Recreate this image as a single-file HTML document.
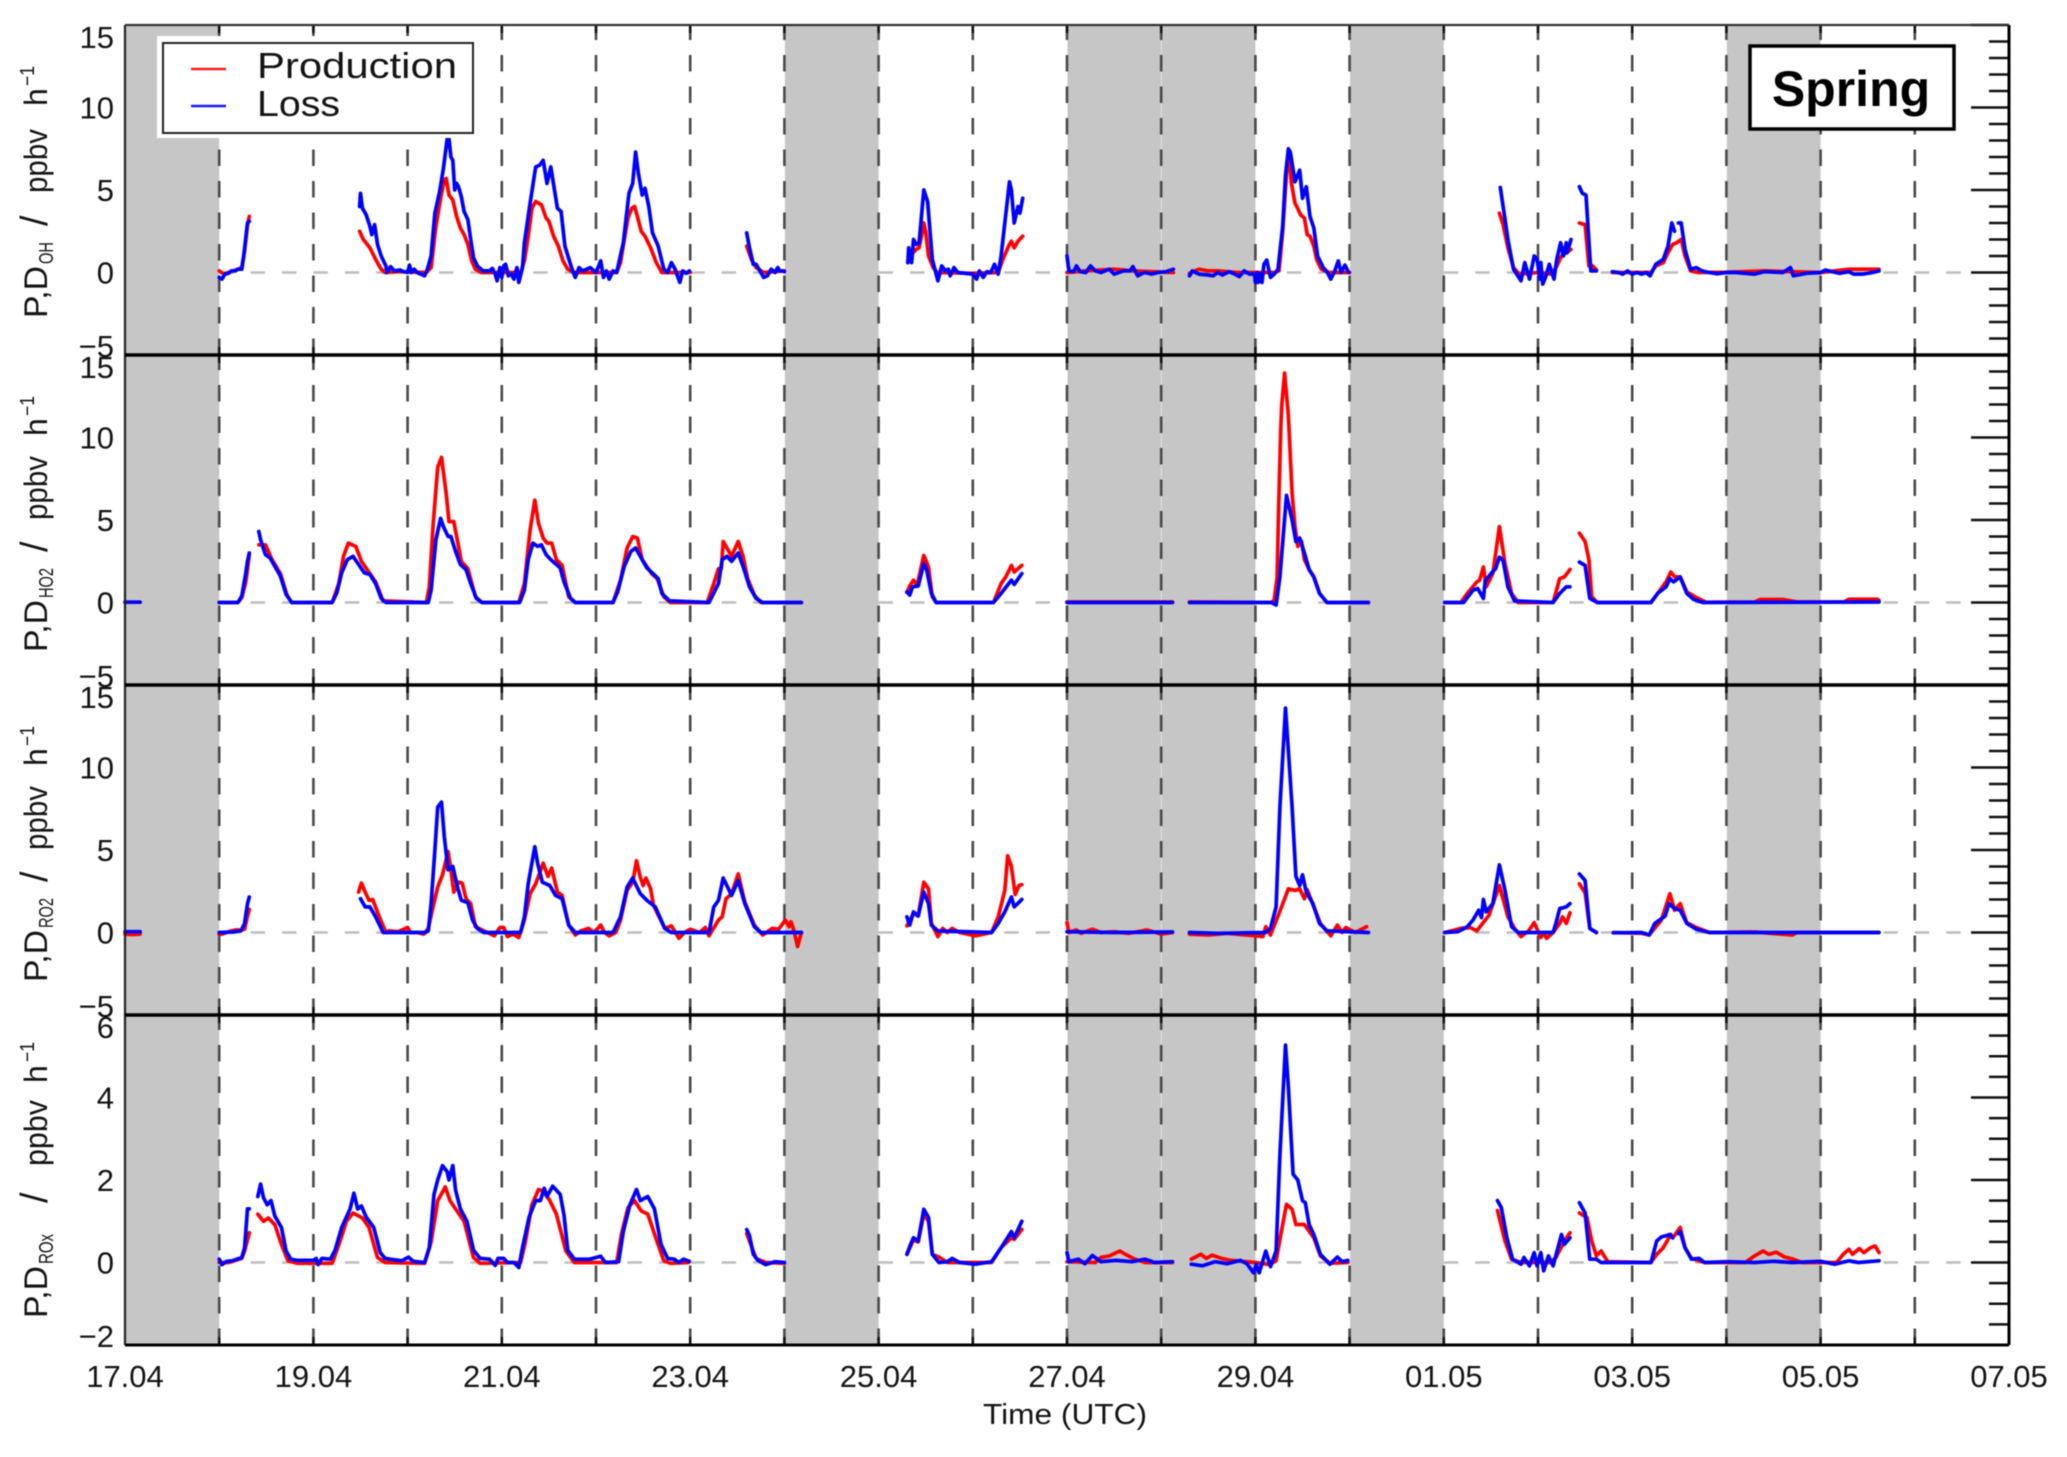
<!DOCTYPE html>
<html lang="en">
<head>
<meta charset="utf-8">
<title>Spring radical production and loss rates</title>
<style>
html,body{margin:0;padding:0;background:#fff;}
svg{display:block;filter:blur(0.55px);}
text{font-family:"Liberation Sans",sans-serif;fill:#141414;}
</style>
</head>
<body>
<svg id="chart" xmlns="http://www.w3.org/2000/svg" width="2067" height="1457" viewBox="0 0 2067 1457">
  <g id="panels"></g>
  <g id="frame"></g>
  <g id="xlabels"></g>
  <text x="983" y="1424" font-size="29" textLength="164" lengthAdjust="spacingAndGlyphs">Time (UTC)</text>

  <g transform="translate(47,318) rotate(-90)" font-size="32">
    <text x="0" y="0" textLength="52" lengthAdjust="spacingAndGlyphs">P,D</text><text x="54" y="6" font-size="20" textLength="22" lengthAdjust="spacingAndGlyphs">OH</text>
    <text x="92" y="0" font-size="38">/</text><text x="125" y="0" textLength="64" lengthAdjust="spacingAndGlyphs">ppbv</text>
    <text x="212" y="0">h</text><text x="232" y="-13" font-size="20" textLength="20" lengthAdjust="spacingAndGlyphs">−1</text>
  </g>
  <g transform="translate(47,652) rotate(-90)" font-size="32">
    <text x="0" y="0" textLength="52" lengthAdjust="spacingAndGlyphs">P,D</text><text x="54" y="6" font-size="20" textLength="30" lengthAdjust="spacingAndGlyphs">HO2</text>
    <text x="100" y="0" font-size="38">/</text><text x="132" y="0" textLength="64" lengthAdjust="spacingAndGlyphs">ppbv</text>
    <text x="216" y="0">h</text><text x="236" y="-13" font-size="20" textLength="20" lengthAdjust="spacingAndGlyphs">−1</text>
  </g>
  <g transform="translate(47,982) rotate(-90)" font-size="32">
    <text x="0" y="0" textLength="52" lengthAdjust="spacingAndGlyphs">P,D</text><text x="54" y="6" font-size="20" textLength="30" lengthAdjust="spacingAndGlyphs">RO2</text>
    <text x="100" y="0" font-size="38">/</text><text x="132" y="0" textLength="64" lengthAdjust="spacingAndGlyphs">ppbv</text>
    <text x="216" y="0">h</text><text x="236" y="-13" font-size="20" textLength="20" lengthAdjust="spacingAndGlyphs">−1</text>
  </g>
  <g transform="translate(47,1318) rotate(-90)" font-size="32">
    <text x="0" y="0" textLength="52" lengthAdjust="spacingAndGlyphs">P,D</text><text x="54" y="6" font-size="20" textLength="30" lengthAdjust="spacingAndGlyphs">ROx</text>
    <text x="115" y="0" font-size="38">/</text><text x="152" y="0" textLength="66" lengthAdjust="spacingAndGlyphs">ppbv</text>
    <text x="235" y="0">h</text><text x="256" y="-13" font-size="20" textLength="20" lengthAdjust="spacingAndGlyphs">−1</text>
  </g>

  <g>
    <rect x="157" y="36" width="320" height="102" fill="#fff"/>
    <rect x="163" y="43" width="310" height="90" fill="#fff" stroke="#222" stroke-width="2"/>
    <line x1="191" x2="226" y1="69" y2="69" stroke="#ff1a1a" stroke-width="2.5"/>
    <line x1="191" x2="226" y1="106" y2="106" stroke="#1a1aff" stroke-width="2.5"/>
    <text x="257" y="78" font-size="36" textLength="200" lengthAdjust="spacingAndGlyphs">Production</text>
    <text x="257" y="116" font-size="36" textLength="83" lengthAdjust="spacingAndGlyphs">Loss</text>
  </g>

  <g>
    <rect x="1750" y="46" width="204" height="83" fill="#fff" stroke="#000" stroke-width="3.5"/>
    <text x="1851" y="106" font-size="50" font-weight="700" text-anchor="middle" style="fill:#000">Spring</text>
  </g>
</svg>

<script>
// Tick labels and categories
const xTickLabels = ['17.04','19.04','21.04','23.04','25.04','27.04','29.04','01.05','03.05','05.05','07.05'];
const yTicksRates = [15,10,5,0,-5];
const yTicksRox = [6,4,2,0,-2];
const grayDays = [[0,1],[7,8],[10,11],[11,12],[13,14],[17,18]];

// Series: [days since 17.04, ppbv/h]; null marks a data gap
const ohProd = [[1,0.1],[1.05,-0.1],[1.12,0.05],[1.2,0.2],[1.24,0.3],[1.27,1.3],[1.3,2.9],[1.32,3.4],null,
[2.49,2.5],[2.53,2],[2.6,1.5],[2.66,0.8],[2.72,0.2],[2.76,0],[2.9,0.05],[3.2,0],[3.25,0.3],[3.3,2.8],[3.35,4.5],[3.39,5.6],[3.41,5.7],[3.44,4.7],[3.48,4.4],[3.52,3.4],[3.56,2.7],[3.6,2.3],[3.64,1.7],[3.68,0.7],[3.72,0.2],[3.78,0],[4.2,0],[4.24,0.7],[4.28,2.2],[4.32,3.9],[4.36,4.3],[4.42,4.1],[4.47,3.3],[4.5,3.1],[4.55,2.2],[4.6,1.6],[4.65,0.7],[4.7,0.2],[4.76,0],[5.22,0],[5.26,0.6],[5.3,2],[5.34,3.3],[5.38,3.9],[5.41,4],[5.44,3.4],[5.48,2.5],[5.52,2.2],[5.58,1.5],[5.64,0.6],[5.7,0],[6,0],null,
[6.6,1.6],[6.65,0.8],[6.7,0.3],[6.78,0],[7,0.1],null,
[8.31,0.6],[8.35,1.1],[8.4,1.4],[8.43,1.5],[8.46,2.3],[8.48,3],[8.5,2.5],[8.53,1],[8.58,0.3],[8.62,0],[9,-0.05],[9.27,0],[9.32,0.8],[9.38,1.6],[9.41,1.9],[9.44,1.5],[9.48,1.9],[9.53,2.2],null,
[10,0],[10.2,0.1],[10.5,0.2],[10.7,0.1],[11.13,0],null,
[11.3,-0.05],[11.4,0.2],[11.5,0.1],[11.6,0.1],[11.8,0],[12.2,0],[12.25,0.1],[12.29,2.5],[12.33,6],[12.36,7.2],[12.38,5.5],[12.42,4.2],[12.44,4],[12.48,3.5],[12.52,3.3],[12.55,2.3],[12.58,2.2],[12.62,1.6],[12.65,0.8],[12.7,0.2],[12.78,0],[13,0],null,
[14.59,3.6],[14.63,2.9],[14.68,1.5],[14.74,0.3],[14.8,-0.1],[15,0],[15.15,-0.1],[15.2,0.4],[15.25,1],[15.3,1.2],[15.35,1.4],null,
[15.44,3],[15.5,2.9],[15.54,0.4],[15.58,0.4],[15.62,0.15],null,
[15.79,0],[16.2,0],[16.25,0.4],[16.33,0.6],[16.38,1.2],[16.43,1.7],[16.47,1.8],[16.52,2],[16.56,1],[16.62,0.1],[16.7,0],[17,0.02],[17.4,0.1],[18,0],[18.3,0.2],[18.62,0.2]];

const ohLoss = [[1,-0.3],[1.03,-0.4],[1.06,-0.1],[1.1,-0.05],[1.13,0.1],[1.17,0.1],[1.2,0.2],[1.24,0.2],[1.26,1],[1.28,2],[1.3,3],[1.32,3.1],null,
[2.49,4],[2.5,4.8],[2.52,3.9],[2.56,3.5],[2.6,2.8],[2.62,2.3],[2.65,2.9],[2.68,1.7],[2.72,1],[2.77,0.4],[2.78,0],[2.82,0.35],[2.86,0.1],[2.92,0.15],[2.96,0.05],[3,0],[3.02,0.45],[3.04,0],[3.07,0.2],[3.1,0],[3.18,-0.2],[3.21,0.2],[3.25,1],[3.29,3.6],[3.34,4.9],[3.38,6.3],[3.42,8.1],[3.44,8.1],[3.46,7],[3.48,6.8],[3.5,5],[3.52,5.4],[3.54,5.2],[3.57,4.6],[3.6,3.7],[3.64,3.2],[3.67,2],[3.7,0.9],[3.74,0.4],[3.8,0.1],[3.87,0.1],[3.9,0.25],[3.93,-0.1],[3.95,-0.5],[3.98,0.3],[4,-0.3],[4.02,0.4],[4.04,0.5],[4.07,-0.2],[4.1,-0.1],[4.13,-0.4],[4.16,0.3],[4.18,-0.6],[4.22,0.3],[4.24,1.8],[4.3,4.2],[4.36,6.4],[4.4,6.5],[4.44,6.8],[4.48,5.4],[4.52,6.4],[4.59,3.9],[4.63,3.7],[4.67,1.6],[4.74,0.3],[4.78,-0.3],[4.82,0.3],[4.86,0.1],[4.94,0.3],[5,0],[5.05,0.7],[5.08,-0.3],[5.11,0.1],[5.14,-0.4],[5.18,0.1],[5.22,0],[5.29,1.8],[5.35,4.8],[5.39,5.4],[5.42,7.3],[5.45,6],[5.49,4.7],[5.52,5.1],[5.56,4],[5.6,2.4],[5.66,1.6],[5.72,0.2],[5.76,0],[5.8,0.6],[5.84,0.2],[5.89,-0.6],[5.92,0.1],[5.96,-0.05],[5.99,0.1],null,
[6.6,2.4],[6.63,1.5],[6.67,0.5],[6.7,0.5],[6.74,0.1],[6.78,-0.3],[6.82,-0.2],[6.86,0.2],[6.9,0],[6.93,0.3],[6.95,0.1],[6.98,0.1],[7,0.05],null,
[8.31,0.6],[8.32,1.5],[8.35,0.6],[8.37,2],[8.4,1.7],[8.43,1.8],[8.48,5],[8.52,4.3],[8.57,0.8],[8.63,-0.5],[8.67,0.4],[8.71,0.1],[8.74,0.2],[8.76,-0.2],[8.8,0.3],[8.84,0],[9,-0.1],[9.04,-0.4],[9.07,0.1],[9.11,-0.3],[9.15,0.05],[9.19,0],[9.23,0.5],[9.27,-0.1],[9.3,1],[9.34,3],[9.39,5.5],[9.41,5],[9.44,3],[9.48,4],[9.5,3.6],[9.53,4.5],null,
[10,1],[10.02,0.1],[10.07,0.05],[10.1,0.4],[10.14,0.05],[10.2,0],[10.25,0.4],[10.3,0.1],[10.36,0],[10.45,0.2],[10.5,-0.1],[10.6,0.1],[10.67,0.1],[10.7,0.35],[10.75,-0.2],[10.82,0],[10.9,-0.1],[10.97,0],[11.05,0.05],[11.13,0.2],null,
[11.3,-0.2],[11.33,0.1],[11.4,-0.1],[11.5,-0.15],[11.55,-0.2],[11.6,0],[11.65,-0.15],[11.72,0.05],[11.78,-0.1],[11.83,-0.25],[11.88,0.1],[11.94,-0.1],[11.99,-0.1],[12,-0.6],[12.02,0],[12.03,-0.6],[12.05,-0.1],[12.07,-0.6],[12.09,0.5],[12.12,0.75],[12.16,-0.3],[12.2,-0.1],[12.24,0.2],[12.29,2.8],[12.32,5.9],[12.35,7.5],[12.37,7.3],[12.42,5.5],[12.47,6.2],[12.5,4.5],[12.54,5.2],[12.58,3.4],[12.62,2.7],[12.66,1],[12.72,0.3],[12.76,0.05],[12.8,-0.4],[12.84,0.05],[12.88,0.7],[12.91,0],[12.95,0.45],[12.99,0],null,
[14.6,5.15],[14.64,3.6],[14.68,2],[14.74,0.2],[14.82,-0.5],[14.86,0.6],[14.91,-0.4],[14.96,1],[14.99,0.8],[15.02,-0.4],[15.03,0.6],[15.05,-0.7],[15.08,-0.3],[15.12,0.5],[15.17,-0.4],[15.2,0.8],[15.24,1.8],[15.27,1],[15.3,1.8],[15.31,1.2],[15.35,2],null,
[15.44,5.2],[15.47,4.8],[15.51,4.7],[15.56,0.1],[15.62,0.1],null,
[15.79,0.05],[15.85,0],[15.9,-0.1],[15.95,0.1],[16,-0.1],[16.05,0],[16.1,-0.1],[16.15,0],[16.19,-0.2],[16.25,0.5],[16.33,0.8],[16.38,1.6],[16.42,3],[16.45,2.5],null,
[16.49,3],[16.52,3],[16.56,1.4],[16.62,0.2],[16.68,0.3],[16.74,0.1],[16.8,0.02],[16.9,-0.08],[17,0],[17.1,0],[17.3,-0.1],[17.4,0.05],[17.6,0],[17.68,0.3],[17.71,-0.2],[17.85,-0.05],[18,0],[18.05,0.15],[18.2,-0.05],[18.3,0.05],[18.35,-0.1],[18.45,-0.1],[18.55,0],[18.62,0.1]];

const ho2Prod = [[0,0.02],[0.16,0.02],null,
[1,0],[1.2,0],[1.24,0.3],[1.28,1.2],[1.3,2],[1.32,2.9],null,
[1.42,3.5],[1.49,3.5],[1.56,2.6],[1.65,1.75],[1.72,0.45],[1.77,0],[2.2,0],[2.27,1.15],[2.32,2.8],[2.37,3.6],[2.45,3.4],[2.51,2.5],[2.6,1.75],[2.66,1.25],[2.74,0.1],[3.2,0],[3.23,0.95],[3.27,4.6],[3.32,8.2],[3.36,8.8],[3.41,6.6],[3.44,4.9],[3.49,4.9],[3.54,3.4],[3.57,2.5],[3.64,2.05],[3.72,0.35],[3.79,0],[4.18,0],[4.24,1.15],[4.3,4.4],[4.35,6.2],[4.39,4.8],[4.44,3.9],[4.48,3.6],[4.53,3.6],[4.58,2.6],[4.64,2.25],[4.71,0.35],[4.78,0],[5.18,0],[5.26,1.35],[5.33,3.3],[5.39,4],[5.44,3.9],[5.49,2.6],[5.59,1.75],[5.65,1.45],[5.72,0.35],[5.79,0],[6.18,0],[6.25,1.15],[6.3,2.05],[6.33,2.05],[6.35,3.7],[6.4,3.2],[6.44,2.8],[6.51,3.7],[6.56,2.8],[6.61,1.45],[6.68,0.45],[6.75,0],[7.18,0],null,
[8.3,0.6],[8.33,1],[8.37,1.35],[8.41,1.05],[8.48,2.85],[8.53,2.15],[8.57,0.35],[8.61,0],[9.22,0],[9.3,1.15],[9.35,1.55],[9.41,2.25],[9.44,1.85],[9.52,2.25],null,
[10,0.03],[11.12,0.03],null,
[11.3,0.03],[12.17,0],[12.2,0.15],[12.23,1.5],[12.25,6.6],[12.27,10.6],[12.28,12],[12.31,13.9],[12.35,11.3],[12.39,6.6],[12.42,4.6],[12.45,3.4],[12.49,3.7],[12.52,2.6],[12.57,2],[12.62,1.55],[12.68,0.55],[12.76,0],[13.2,0],null,
[14.01,0],[14.18,0],[14.25,0.55],[14.35,1.25],[14.38,1.35],[14.42,2.15],[14.45,0.95],[14.52,1.75],[14.59,4.6],[14.65,2.35],[14.72,0.55],[14.79,0],[15.16,0],[15.23,1.45],[15.28,1.55],[15.34,2],null,
[15.44,4.2],[15.5,3.7],[15.54,2.6],[15.57,0.35],[15.63,0],[16.2,0],[16.36,1.25],[16.41,1.85],[16.45,1.55],[16.51,1.55],[16.58,0.65],[16.68,0.3],[16.78,0.02],[17.3,0.03],[17.36,0.18],[17.6,0.18],[17.75,0.03],[18.25,0.03],[18.3,0.2],[18.6,0.2],[18.62,0.12]];

const ho2Loss = [[0,0.02],[0.16,0.02],null,
[1,0],[1.2,0],[1.24,0.4],[1.28,1.7],[1.3,2.5],[1.32,3],null,
[1.42,4.3],[1.44,3.8],[1.49,2.9],[1.54,2.7],[1.58,2.3],[1.65,1.6],[1.71,0.5],[1.77,0],[2.2,0],[2.25,0.6],[2.3,1.8],[2.36,2.6],[2.42,2.8],[2.48,2.3],[2.54,1.8],[2.6,1.7],[2.66,1.15],[2.72,0.25],[2.77,0],[3.22,0],[3.25,0.75],[3.3,3.8],[3.35,5.1],[3.38,4.6],[3.43,4],[3.46,4],[3.51,3.1],[3.56,2.3],[3.62,2],[3.67,1.15],[3.73,0.25],[3.79,0],[4.19,0],[4.24,0.75],[4.28,2.6],[4.33,3.6],[4.38,3.4],[4.42,3.5],[4.47,2.9],[4.52,2.6],[4.62,2.1],[4.66,1.25],[4.73,0.25],[4.78,0],[5.18,0],[5.23,0.65],[5.3,2.2],[5.37,3.1],[5.42,3.3],[5.47,2.8],[5.54,2.1],[5.66,1.45],[5.7,0.55],[5.78,0.1],[6.2,0],[6.3,1.15],[6.34,2.6],[6.39,2.8],[6.44,2.5],[6.51,3],[6.56,2.2],[6.63,0.95],[6.7,0.25],[6.77,0],[7.18,0],null,
[8.3,0.65],[8.33,0.45],[8.36,0.95],[8.42,1],[8.48,2.35],[8.51,2],[8.56,0.55],[8.61,0],[9.22,0],[9.3,0.55],[9.41,1.35],[9.44,1.1],[9.52,1.75],null,
[10,0],[11.12,0],null,
[11.3,0],[12.17,0],[12.22,-0.15],[12.26,1.55],[12.33,6.5],[12.39,5],[12.43,3.7],[12.47,3.9],[12.52,3],[12.57,2],[12.62,1.55],[12.68,0.55],[12.76,0],[13.2,0],null,
[14.01,0],[14.21,0],[14.31,0.75],[14.36,0.85],[14.42,0.25],[14.44,1.3],[14.46,1.45],[14.5,1.75],[14.55,2.05],[14.59,2.75],[14.63,2.55],[14.68,0.95],[14.75,0.1],[15.16,0],[15.23,0.55],[15.3,0.95],[15.34,0.95],null,
[15.44,2.45],[15.5,2.25],[15.55,0.25],[15.63,0],[16.2,0],[16.27,0.55],[16.36,0.95],[16.4,1.45],[16.44,1.25],[16.51,1.55],[16.58,0.55],[16.65,0.2],[16.75,0],[18.62,0.03]];

const ro2Prod = [[0,-0.1],[0.08,-0.12],[0.16,-0.1],null,
[1,-0.1],[1.03,-0.1],[1.1,0.05],[1.17,0.15],[1.23,0.15],[1.27,0.2],[1.3,1],[1.32,1.4],null,
[2.48,2.45],[2.51,3],[2.55,2.45],[2.59,1.95],[2.63,2],[2.7,0.95],[2.77,0],[2.8,0.1],[2.9,0.05],[3,0.3],[3.03,0],[3.1,0],[3.17,-0.1],[3.22,0.25],[3.27,1.55],[3.32,2.75],[3.37,3.5],[3.43,4.9],[3.46,3.8],[3.49,2.45],[3.54,3.05],[3.58,3],[3.62,2.05],[3.67,1.75],[3.72,0.35],[3.81,0.1],[3.92,-0.2],[3.98,0.3],[4.02,0.3],[4.06,-0.25],[4.12,-0.1],[4.18,-0.3],[4.24,0.75],[4.3,2.35],[4.36,2.95],[4.44,4.2],[4.49,3.4],[4.53,3.9],[4.59,2.45],[4.64,2.25],[4.71,0.45],[4.78,-0.15],[4.84,0.1],[4.92,0.25],[4.98,0],[5.05,0.45],[5.09,0],[5.14,-0.2],[5.21,0],[5.26,0.75],[5.33,2.55],[5.39,3.05],[5.43,4.35],[5.47,3.35],[5.5,2.85],[5.53,3.3],[5.58,2.65],[5.61,1.65],[5.67,0.95],[5.73,0.25],[5.8,0.4],[5.88,-0.35],[5.94,0],[6,0.2],[6.1,0],[6.16,0.3],[6.2,-0.2],[6.3,0.75],[6.34,0.95],[6.38,2.05],[6.44,2.35],[6.51,3.55],[6.58,1.85],[6.68,0.45],[6.77,-0.15],[6.87,0.25],[6.94,0.2],[7.01,0.75],[7.05,0.35],[7.07,0.65],[7.1,0.15],[7.14,-0.85],[7.18,0],null,
[8.3,0.4],[8.37,1.15],[8.42,1],[8.48,3.05],[8.53,2.65],[8.56,0.55],[8.63,-0.25],[8.68,0.25],[8.73,0],[8.78,0.25],[8.86,0],[9.03,-0.2],[9.2,0],[9.27,0.95],[9.34,2.55],[9.37,4.65],[9.41,4],[9.45,2.3],[9.49,2.85],[9.52,2.9],null,
[10,0.6],[10.02,0],[10.1,0.15],[10.15,-0.05],[10.27,0.2],[10.36,0],[10.5,0.05],[10.65,-0.05],[10.85,0.15],[11,-0.1],[11.12,0],null,
[11.3,-0.1],[11.5,-0.15],[11.7,-0.05],[11.9,-0.15],[12,-0.2],[12.08,-0.25],[12.11,0.35],[12.16,-0.15],[12.25,1.15],[12.35,2.65],[12.42,2.55],[12.47,2.65],[12.52,2.05],[12.55,2.6],[12.62,1.55],[12.69,0.55],[12.8,-0.2],[12.87,0.45],[12.92,0],[12.96,0.3],[13.06,0],[13.18,0.35],null,
[14.01,0],[14.18,0.25],[14.28,0.3],[14.35,0.1],[14.48,1.05],[14.59,2.85],[14.68,0.95],[14.75,0.25],[14.82,-0.25],[14.9,0.1],[14.96,0.6],[15.03,-0.3],[15.06,0],[15.09,-0.35],[15.16,0],[15.23,0.55],[15.26,0.95],[15.3,0.55],[15.34,1.2],null,
[15.44,2.95],[15.5,2.4],[15.55,0.25],[15.62,0],null,
[15.8,0],[16.1,-0.05],[16.18,-0.15],[16.31,0.75],[16.4,2.35],[16.45,1.35],[16.51,1.75],[16.58,0.6],[16.68,0.3],[16.82,0],[17.3,0.03],[17.7,-0.15],[17.75,0],[18.2,0],[18.62,0]];

const ro2Loss = [[0,0.05],[0.16,0.05],null,
[1,0],[1.15,0.03],[1.23,0.1],[1.27,0.55],[1.3,1.75],[1.32,2.15],null,
[2.5,2.05],[2.55,1.55],[2.6,1.55],[2.66,0.95],[2.74,0],[3.19,0],[3.22,0.1],[3.25,1.75],[3.29,5],[3.32,7.6],[3.36,7.9],[3.39,5.8],[3.43,3.8],[3.48,4],[3.53,2.75],[3.57,1.95],[3.64,1.8],[3.69,0.75],[3.74,0.25],[3.81,0],[4.2,0],[4.24,0.95],[4.28,2.95],[4.35,5.2],[4.38,4.2],[4.43,3.05],[4.51,2.85],[4.57,2.25],[4.64,2.05],[4.71,0.45],[4.78,0],[5.18,0],[5.26,0.95],[5.33,2.75],[5.39,3.3],[5.47,2.35],[5.54,1.95],[5.63,1.55],[5.73,0.25],[5.8,0],[6.2,0],[6.25,1.55],[6.3,1.95],[6.35,3.3],[6.44,2.25],[6.51,3.15],[6.58,1.75],[6.68,0.35],[6.75,0],[7.18,0],null,
[8.3,0.95],[8.33,0.45],[8.37,1.25],[8.42,1],[8.48,2.45],[8.53,1.75],[8.56,0.45],[8.63,0.1],[9.2,0],[9.27,0.55],[9.34,1.25],[9.41,2.15],[9.44,1.55],[9.52,2],null,
[10,0.05],[10.5,0],[11.12,0.03],null,
[11.3,0],[11.6,-0.05],[12.11,0],[12.16,0.25],[12.22,1.55],[12.26,7.6],[12.32,13.6],[12.35,11],[12.39,7.6],[12.43,3.4],[12.47,2.85],[12.5,3.5],[12.54,2.45],[12.61,1.75],[12.68,0.55],[12.76,0.1],[13.2,0],null,
[14.01,0],[14.15,0.05],[14.25,0.35],[14.31,0.75],[14.37,1.35],[14.4,0.9],[14.42,2],[14.45,1.25],[14.52,1.75],[14.59,4.1],[14.65,2.55],[14.72,0.35],[14.79,0],[15.16,0],[15.19,0.55],[15.23,1.45],[15.3,1.55],[15.34,1.75],null,
[15.44,3.55],[15.5,3.15],[15.55,0.25],[15.62,0],null,
[15.8,-0.02],[16.1,0],[16.18,-0.15],[16.24,0.55],[16.35,1],[16.39,1.75],[16.45,1.45],[16.51,1.35],[16.58,0.55],[16.68,0.2],[16.82,0],[18.62,0]];

const roxProd = [[1,0],[1.1,0],[1.24,0.1],[1.27,0.28],[1.32,0.72],null,
[1.41,1.17],[1.47,1],[1.52,1.08],[1.59,0.92],[1.66,0.44],[1.73,0.04],[1.83,-0.02],[2.2,-0.02],[2.28,0.5],[2.35,1],[2.42,1.2],[2.52,1.08],[2.59,0.85],[2.68,0.12],[2.76,0],[3.18,-0.02],[3.25,0.5],[3.32,1.5],[3.4,1.83],[3.45,1.5],[3.5,1.33],[3.6,1],[3.7,0.12],[3.77,-0.02],[4.2,0],[4.25,0.5],[4.32,1.4],[4.39,1.77],[4.44,1.73],[4.51,1.5],[4.58,1.17],[4.68,0.28],[4.77,0],[5.22,0],[5.27,0.68],[5.34,1.33],[5.41,1.5],[5.48,1.25],[5.55,1.17],[5.65,0.5],[5.72,0.04],[5.79,-0.02],[5.98,0],null,
[6.6,0.7],[6.65,0.4],[6.7,0.1],[6.8,0],[7,-0.02],null,
[8.3,0.2],[8.37,0.55],[8.42,0.5],[8.48,1.17],[8.53,1],[8.57,0.2],[8.64,0.13],[8.73,0],[9.2,0],[9.3,0.36],[9.41,0.6],[9.44,0.56],[9.52,0.8],null,
[10,0.02],[10.3,0],[10.36,0.12],[10.45,0.16],[10.56,0.28],[10.62,0.2],[10.72,0.08],[10.83,0],[11.12,0],null,
[11.32,0.08],[11.42,0.2],[11.48,0.1],[11.54,0.18],[11.64,0.1],[11.74,0.05],[12,0],[12.15,-0.05],[12.22,0.04],[12.27,0.68],[12.33,1.41],[12.39,1.29],[12.43,0.92],[12.52,0.92],[12.62,0.6],[12.69,0.16],[12.79,-0.02],[12.98,0],null,
[14.57,1.26],[14.65,0.52],[14.72,0.08],[14.82,0],[15.13,0],[15.19,0.12],[15.28,0.52],[15.34,0.72],null,
[15.44,1.2],[15.52,1.09],[15.57,0.52],[15.62,0.16],[15.67,0.28],[15.74,0.02],[16.2,0],[16.26,0.2],[16.33,0.36],[16.41,0.68],[16.43,0.6],[16.51,0.85],[16.56,0.36],[16.63,0.1],[16.77,0],[17.2,0],[17.3,0.16],[17.39,0.28],[17.45,0.2],[17.53,0.25],[17.62,0.13],[17.71,0.08],[17.8,0],[18.17,0],[18.24,0.2],[18.3,0.32],[18.34,0.2],[18.41,0.34],[18.46,0.24],[18.53,0.36],[18.58,0.4],[18.62,0.24]];

const roxLoss = [[1,0.08],[1.03,-0.05],[1.08,0.03],[1.14,0.04],[1.24,0.12],[1.27,0.36],[1.3,1.3],[1.32,1.3],null,
[1.41,1.6],[1.44,1.9],[1.47,1.57],[1.51,1.4],[1.55,1.5],[1.59,1.13],[1.66,0.85],[1.71,0.28],[1.76,0.08],[1.83,0.05],[2,0.05],[2.03,0.1],[2.05,-0.05],[2.09,0.1],[2.18,0.08],[2.23,0.3],[2.3,0.85],[2.39,1.3],[2.43,1.68],[2.47,1.3],[2.51,1.37],[2.56,1.1],[2.64,0.85],[2.71,0.24],[2.76,0.1],[2.94,0.04],[3.01,0.13],[3.06,0.03],[3.18,0],[3.23,0.36],[3.28,1.65],[3.32,2],[3.37,2.35],[3.42,2.2],[3.44,2],[3.48,2.35],[3.51,1.75],[3.56,1.3],[3.63,1],[3.7,0.3],[3.77,0.1],[3.87,0.08],[3.93,-0.07],[3.96,0.1],[4.02,0.1],[4.06,0],[4.13,0],[4.18,-0.12],[4.22,0.36],[4.29,1.1],[4.36,1.5],[4.41,1.5],[4.45,1.8],[4.48,1.6],[4.54,1.85],[4.62,1.65],[4.66,1.15],[4.7,0.3],[4.77,0.08],[4.93,0.08],[5.05,0.15],[5.1,0],[5.24,0.02],[5.29,0.75],[5.36,1.4],[5.43,1.77],[5.47,1.5],[5.55,1.6],[5.62,1.3],[5.69,0.44],[5.76,0.1],[5.83,0.08],[5.88,0],[5.93,0.08],[5.99,0.03],null,
[6.6,0.8],[6.63,0.65],[6.67,0.2],[6.72,0.05],[6.8,-0.05],[6.9,0.02],[7,0],null,
[8.3,0.2],[8.34,0.44],[8.37,0.6],[8.42,0.52],[8.48,1.29],[8.53,1.09],[8.57,0.2],[8.64,0],[8.73,0.02],[8.78,0.1],[8.86,0],[9.03,-0.04],[9.2,0.02],[9.3,0.36],[9.41,0.75],[9.44,0.6],[9.52,1],null,
[10,0.24],[10.02,0.02],[10.12,0.08],[10.19,-0.03],[10.27,0.17],[10.36,0.02],[10.52,0.05],[10.69,0.02],[10.83,0.08],[10.93,0],[11.12,0.02],null,
[11.32,-0.04],[11.44,-0.08],[11.57,0.02],[11.7,-0.03],[11.84,0.05],[11.91,-0.03],[11.98,-0.25],[12.01,-0.04],[12.04,-0.25],[12.11,0.28],[12.16,-0.1],[12.22,0.28],[12.26,2.6],[12.32,5.27],[12.35,4.24],[12.4,2.14],[12.45,2],[12.5,1.5],[12.53,1.45],[12.57,0.92],[12.62,0.68],[12.69,0.2],[12.79,-0.04],[12.87,0.13],[12.92,0.02],[12.98,0.05],null,
[14.57,1.5],[14.61,1.33],[14.67,0.6],[14.73,0.08],[14.82,-0.04],[14.85,0.12],[14.91,-0.08],[14.96,0.24],[14.99,-0.08],[15.03,0.24],[15.06,-0.2],[15.11,0.16],[15.16,-0.08],[15.25,0.68],[15.28,0.44],[15.34,0.6],null,
[15.44,1.45],[15.5,1.2],[15.55,0.08],[15.62,0.08],[15.67,0],[15.74,0],[16.2,0],[16.26,0.52],[16.31,0.62],[16.36,0.65],[16.4,0.68],[16.43,0.6],null,
[16.49,0.7],[16.51,0.75],[16.56,0.36],[16.63,0.08],[16.71,0.1],[16.77,0],[17,0.02],[17.3,0],[17.5,0.03],[17.7,0],[18,0.03],[18.15,-0.04],[18.3,0.04],[18.4,0],[18.62,0.04]];

const panelNames = ['oh','ho2','ro2','rox'];
const panelProd = [ohProd, ho2Prod, ro2Prod, roxProd];
const panelLoss = [ohLoss, ho2Loss, ro2Loss, roxLoss];
const panelMin = [-5,-5,-5,-2];
const panelMax = [15,15,15,6];
const panelMajorTicks = [yTicksRates, yTicksRates, yTicksRates, yTicksRox];
const panelMinorStep = [1,1,1,0.5];

const NS = 'http://www.w3.org/2000/svg';
const plotLeft = 125, plotRight = 2009, plotTop = 25, panelHeight = 330;
const dayCount = 20;

function xScale(day){ return plotLeft + (plotRight - plotLeft) * day / dayCount; }
function panelTop(i){ return plotTop + i * panelHeight; }
function yScale(i, v){ return panelTop(i) + panelHeight * (panelMax[i] - v) / (panelMax[i] - panelMin[i]); }

function mk(tag, attrs){
  const el = document.createElementNS(NS, tag);
  for (const k in attrs) el.setAttribute(k, attrs[k]);
  return el;
}
function seriesPath(i, pts){
  let d = '', pen = false;
  for (const p of pts){
    if (p === null){ pen = false; continue; }
    d += (pen ? 'L' : 'M') + xScale(p[0]).toFixed(1) + ' ' + yScale(i, p[1]).toFixed(1);
    pen = true;
  }
  return d;
}

const panelsG = document.getElementById('panels');
const frameG = document.getElementById('frame');
const xLabelG = document.getElementById('xlabels');

panelNames.forEach(function(name, i){
  const g = mk('g', {});
  
  
  panelsG.appendChild(g);
  const top = panelTop(i), bottom = top + panelHeight;

  const zero = mk('line', {x1:plotLeft, x2:plotRight - 40, y1:yScale(i,0), y2:yScale(i,0), stroke:'#bdbdbd', 'stroke-width':2.5, 'stroke-dasharray':'14.5 16.9'});
  
  
  g.appendChild(zero);

  grayDays.forEach(function(b){
    const r = mk('rect', {x:xScale(b[0]) + 0.5, y:top, width:xScale(b[1]) - xScale(b[0]) - 0.5, height:panelHeight, fill:'#c6c6c6'});
    
    
    g.appendChild(r);
  });

  for (let day = 1; day < dayCount; day++){
    const v = mk('line', {x1:xScale(day), x2:xScale(day), y1:bottom, y2:top, stroke:'#4a4a4a', 'stroke-width':2.6, 'stroke-dasharray':'16.5 15'});
    
    
    g.appendChild(v);
    const t1 = mk('line', {x1:xScale(day), x2:xScale(day), y1:bottom, y2:bottom - 8, stroke:'#111', 'stroke-width':2.5});
    
    
    g.appendChild(t1);
    const t2 = mk('line', {x1:xScale(day), x2:xScale(day), y1:top, y2:top + 8, stroke:'#111', 'stroke-width':2.5});
    
    
    g.appendChild(t2);
  }

  const prod = mk('path', {d:seriesPath(i, panelProd[i]), fill:'none', stroke:'#ff0000', 'stroke-width':3.7, 'stroke-linejoin':'round', 'stroke-linecap':'round'});
  
  
  g.appendChild(prod);

  const loss = mk('path', {d:seriesPath(i, panelLoss[i]), fill:'none', stroke:'#0000ff', 'stroke-width':3.7, 'stroke-linejoin':'round', 'stroke-linecap':'round'});
  
  
  g.appendChild(loss);

  const minorStep = panelMinorStep[i];
  const minorCount = Math.round((panelMax[i] - panelMin[i]) / minorStep);
  for (let k = 0; k <= minorCount; k++){
    const val = panelMin[i] + k * minorStep;
    const isMajor = panelMajorTicks[i].indexOf(val) >= 0;
    const y = yScale(i, val);
    const tick = mk('line', {x1:plotRight, x2:plotRight - (isMajor ? 38 : 20), y1:y, y2:y, stroke:'#111', 'stroke-width':2.6});
    
    
    g.appendChild(tick);
  }

  panelMajorTicks[i].forEach(function(val){
    let cy = yScale(i, val);
    cy = Math.min(Math.max(cy, top + 12), bottom - 9);
    const label = mk('text', {x:114, y:cy + 11, 'font-size':31, 'text-anchor':'end'});
    label.textContent = val < 0 ? '\u2212' + Math.abs(val) : String(val);
    
    
    g.appendChild(label);
  });
});

xTickLabels.forEach(function(txt, k){
  const label = mk('text', {x:xScale(k * 2), y:1387, 'font-size':31, 'text-anchor':'middle'});
  label.textContent = txt;
  
  
  xLabelG.appendChild(label);
});

const leftAxis = mk('line', {x1:plotLeft, x2:plotLeft, y1:plotTop, y2:plotTop + 4 * panelHeight, stroke:'#222', 'stroke-width':2.2});


frameG.appendChild(leftAxis);

const rightAxis = mk('line', {x1:plotRight, x2:plotRight, y1:plotTop, y2:plotTop + 4 * panelHeight, stroke:'#000', 'stroke-width':3});


frameG.appendChild(rightAxis);

const topAxis = mk('line', {x1:plotLeft, x2:plotRight, y1:plotTop, y2:plotTop, stroke:'#333', 'stroke-width':2.2});


frameG.appendChild(topAxis);

for (let s = 1; s <= 4; s++){
  const y = plotTop + s * panelHeight;
  const sep = mk('line', {x1:plotLeft, x2:plotRight, y1:y, y2:y, stroke:'#000', 'stroke-width':s === 4 ? 3 : 3.6});
  
  
  frameG.appendChild(sep);
}
</script>
</body>
</html>
